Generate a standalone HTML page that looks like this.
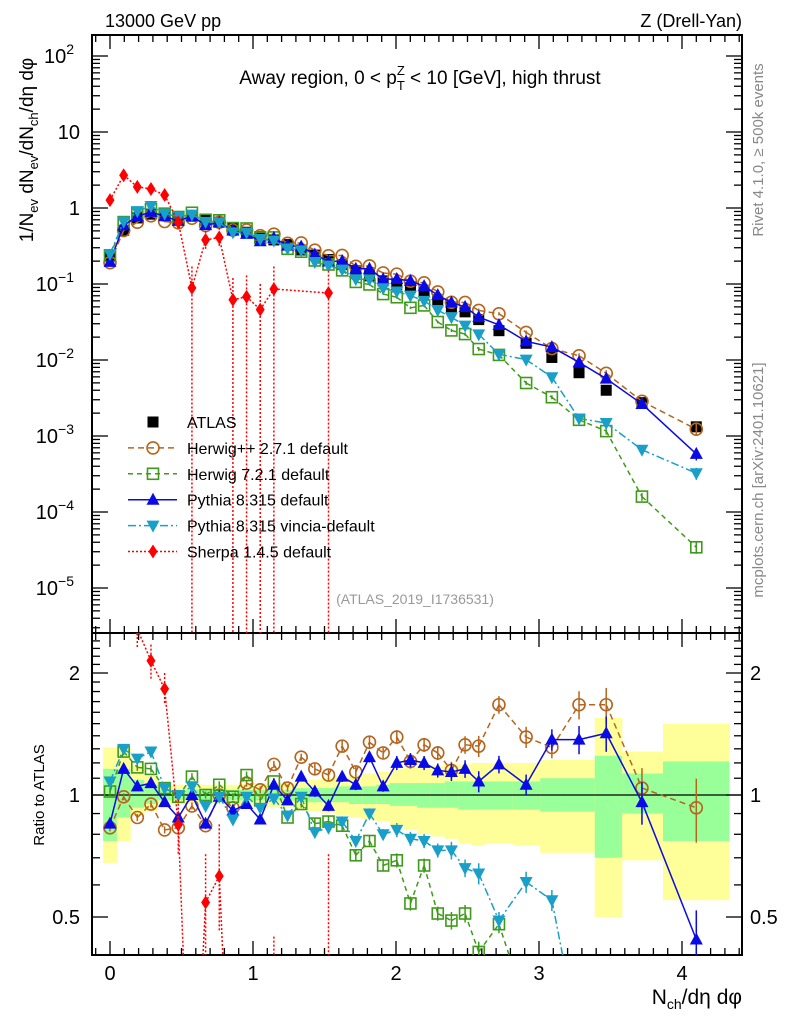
<!DOCTYPE html>
<html><head><meta charset="utf-8">
<style>
html,body{margin:0;padding:0;background:#fff;width:786px;height:1024px;overflow:hidden;}
svg{display:block;font-family:"Liberation Sans",Arial,sans-serif;}
</style></head>
<body>
<svg id="c" width="786" height="1024" viewBox="0 0 786 1024" xmlns="http://www.w3.org/2000/svg">
<defs>
<clipPath id="clipTop"><rect x="92" y="35" width="650" height="598"/></clipPath>
<clipPath id="clipBot"><rect x="92" y="633" width="650" height="322"/></clipPath>
</defs>
<g id="bands" clip-path="url(#clipBot)"></g>
<g id="axes"></g>
<g id="series-top" clip-path="url(#clipTop)"></g>
<g id="series-bot" clip-path="url(#clipBot)"></g>
<text x="105" y="27" font-size="18">13000 GeV pp</text>
<text x="742" y="27" font-size="18" text-anchor="end">Z (Drell-Yan)</text>
<text x="420" y="84" font-size="19" text-anchor="middle">Away region, 0 &lt; p<tspan font-size="13" dy="6">T</tspan><tspan font-size="13" dx="-8" dy="-15">Z</tspan><tspan dy="9"> &lt; 10 [GeV], high thrust</tspan></text>
<text x="415" y="604" font-size="14" fill="#999" text-anchor="middle">(ATLAS_2019_I1736531)</text>
<text transform="translate(763,150) rotate(-90)" font-size="15" fill="#888" text-anchor="middle">Rivet 4.1.0, ≥ 500k events</text>
<text transform="translate(763,480) rotate(-90)" font-size="15" fill="#888" text-anchor="middle">mcplots.cern.ch [arXiv:2401.10621]</text>
<text transform="translate(33,150) rotate(-90)" font-size="19" text-anchor="middle">1/N<tspan font-size="13" dy="5">ev</tspan><tspan dy="-5"> dN</tspan><tspan font-size="13" dy="5">ev</tspan><tspan dy="-5">/dN</tspan><tspan font-size="13" dy="5">ch</tspan><tspan dy="-5">/dη dφ</tspan></text>
<text transform="translate(44,795) rotate(-90)" font-size="15" text-anchor="middle">Ratio to ATLAS</text>
<text x="742" y="1004" font-size="21" text-anchor="end">N<tspan font-size="14" dy="5">ch</tspan><tspan dy="-5">/dη dφ</tspan></text>
<g id="legend"></g>
</svg>
<script>
const xVals=[0,0.0955,0.191,0.2865,0.382,0.4775,0.573,0.6685,0.764,0.8595,0.955,1.0505,1.146,1.2415,1.337,1.4325,1.528,1.6235,1.719,1.8145,1.91,2.0055,2.101,2.1965,2.292,2.3875,2.483,2.5785,2.72,2.91,3.09,3.28,3.47,3.72,4.1];
const binLo=[-0.048,0.048,0.143,0.239,0.334,0.43,0.525,0.621,0.716,0.812,0.907,1.003,1.098,1.194,1.289,1.385,1.48,1.576,1.671,1.767,1.862,1.958,2.053,2.149,2.244,2.34,2.435,2.531,2.626,2.817,3.008,3.199,3.39,3.581,3.867];
const binHi=[0.048,0.143,0.239,0.334,0.43,0.525,0.621,0.716,0.812,0.907,1.003,1.098,1.194,1.289,1.385,1.48,1.576,1.671,1.767,1.862,1.958,2.053,2.149,2.244,2.34,2.435,2.531,2.626,2.817,3.008,3.199,3.39,3.581,3.867,4.33];
const atlas=[0.23,0.51,0.74,0.83,0.81,0.77,0.78,0.70,0.65,0.55,0.48,0.42,0.38,0.33,0.28,0.24,0.21,0.18,0.15,0.128,0.11,0.097,0.09,0.078,0.062,0.05,0.043,0.034,0.0243,0.0166,0.0108,0.0068,0.0040,0.00275,0.00132];
const yelUp=[1.31,1.31,1.18,1.12,1.07,1.06,1.06,1.06,1.06,1.06,1.07,1.07,1.07,1.07,1.08,1.09,1.10,1.11,1.12,1.13,1.14,1.16,1.17,1.18,1.18,1.19,1.19,1.20,1.20,1.20,1.22,1.22,1.55,1.28,1.50];
const yelDn=[0.68,0.77,0.89,0.91,0.94,0.95,0.95,0.95,0.95,0.95,0.94,0.94,0.93,0.93,0.92,0.91,0.90,0.89,0.88,0.87,0.86,0.84,0.82,0.80,0.79,0.78,0.76,0.75,0.76,0.75,0.72,0.72,0.50,0.69,0.55];
const grnUp=[1.16,1.16,1.09,1.06,1.03,1.03,1.03,1.03,1.03,1.03,1.03,1.03,1.03,1.03,1.04,1.04,1.04,1.05,1.05,1.05,1.06,1.07,1.07,1.07,1.07,1.08,1.08,1.08,1.08,1.08,1.10,1.10,1.25,1.13,1.21];
const grnDn=[0.77,0.88,0.93,0.95,0.97,0.97,0.97,0.97,0.97,0.97,0.97,0.97,0.97,0.97,0.96,0.96,0.96,0.96,0.95,0.95,0.95,0.94,0.94,0.93,0.93,0.93,0.92,0.92,0.92,0.92,0.91,0.91,0.70,0.90,0.77];
const relErr=[0.02,0.02,0.02,0.02,0.02,0.02,0.02,0.02,0.02,0.02,0.02,0.02,0.02,0.02,0.02,0.03,0.03,0.03,0.03,0.03,0.03,0.04,0.04,0.04,0.04,0.05,0.05,0.06,0.05,0.06,0.06,0.08,0.10,0.12,0.18];
const rPythia=[0.85,1.16,1.05,1.07,0.96,0.88,1.0,0.85,0.99,0.915,0.95,0.87,1.06,0.97,1.11,1.02,0.94,1.11,1.06,1.24,1.05,1.20,1.22,1.20,1.15,1.14,1.16,1.08,1.19,1.06,1.37,1.37,1.42,0.96,0.44];
const rHerwigPP=[0.83,0.99,0.88,0.95,0.82,0.83,0.94,0.84,1.0,0.93,1.07,1.03,1.19,1.04,1.24,1.16,1.12,1.32,1.14,1.35,1.27,1.39,1.21,1.33,1.27,1.15,1.33,1.32,1.67,1.39,1.31,1.67,1.67,1.04,0.93];
const rHerwig7=[1.02,1.28,1.17,1.16,1.04,0.99,1.11,1.0,1.06,0.99,1.12,0.97,1.08,0.88,0.95,0.85,0.86,0.84,0.71,0.77,0.67,0.69,0.54,0.67,0.51,0.49,0.51,0.41,0.48,0.30,0.30,0.24,0.29,0.058,0.026];
const rVincia=[1.08,1.30,1.23,1.28,1.04,1.0,1.05,0.94,0.99,0.87,0.99,0.93,0.98,0.89,0.99,0.81,0.83,0.86,0.77,0.90,0.80,0.82,0.78,0.77,0.73,0.73,0.66,0.64,0.49,0.61,0.55,0.25,0.37,0.24,0.245];
const sherpa=[1.27,2.7,1.9,1.78,1.48,0.65,0.089,0.38,0.41,0.062,0.068,0.046,0.086,null,null,null,0.076];
const sherpaUp=[1.45,3.0,2.1,1.95,1.62,0.75,0.17,0.5,0.55,0.12,0.13,0.10,0.17,null,null,null,0.15];
const sherpaDn=[1.1,2.4,1.7,1.6,1.35,0.55,0,0.28,0.3,0,0,0,0,null,null,null,0];
const yTopTicks=[[100,"10","2"],[10,"10",""],[1,"1",""],[0.1,"10","−1"],[0.01,"10","−2"],[0.001,"10","−3"],[0.0001,"10","−4"],[0.00001,"10","−5"]];
const ratioTicks=[[2,"2"],[1,"1"],[0.5,"0.5"]];
const xTicks=[0,1,2,3,4];

const NS="http://www.w3.org/2000/svg";
const X=v=>110+143*v;
const YT=v=>208-76*Math.log10(v);
const YR=r=>795-122*Math.log2(r);
const TOP=[35,633],BOT=[633,955];
function mk(tag,attrs,parent){const e=document.createElementNS(NS,tag);for(const k in attrs)e.setAttribute(k,attrs[k]);parent.appendChild(e);return e;}
// clip a polyline (array of [x,y]) to y-range; returns array of segments
function clipLine(pts,rng){
  const [y0,y1]=rng;const segs=[];
  for(let i=0;i<pts.length-1;i++){
    let [xa,ya]=pts[i],[xb,yb]=pts[i+1];
    if((ya<y0&&yb<y0)||(ya>y1&&yb>y1))continue;
    const at=y=>xa+(xb-xa)*(y-ya)/(yb-ya);
    if(ya<y0){xa=at(y0);ya=y0;}else if(ya>y1){xa=at(y1);ya=y1;}
    // recompute with original for b
    const [oxa,oya]=pts[i];const at2=y=>oxa+(xb-oxa)*(y-oya)/(yb-oya);
    if(yb<y0){xb=at2(y0);yb=y0;}else if(yb>y1){xb=at2(y1);yb=y1;}
    segs.push([[xa,ya],[xb,yb]]);
  }
  return segs;
}
function drawLine(pts,rng,attrs,parent){
  const segs=clipLine(pts,rng);
  const d=segs.map(s=>`M${s[0][0].toFixed(2)},${s[0][1].toFixed(2)}L${s[1][0].toFixed(2)},${s[1][1].toFixed(2)}`).join('');
  if(d)mk('path',Object.assign({d:d},attrs),parent);
}
const clampY=(y,r)=>Math.max(r[0],Math.min(r[1],y));
const inR=(y,r)=>y>=r[0]-8&&y<=r[1]+8;
const axes=document.getElementById('axes');
const bands=document.getElementById('bands');
const sTop=document.getElementById('series-top');
const sBot=document.getElementById('series-bot');

for(let i=0;i<xVals.length;i++){
  const w=X(binHi[i])-X(binLo[i]);
  const y1=mk('rect',{x:X(binLo[i]),y:YR(yelUp[i]),width:w+0.3,height:YR(yelDn[i])-YR(yelUp[i]),fill:'#ffff99'},bands);
  
  
  const g1=mk('rect',{x:X(binLo[i]),y:YR(grnUp[i]),width:w+0.3,height:YR(grnDn[i])-YR(grnUp[i]),fill:'#99ff99'},bands);
  
  
}
const f1=mk('rect',{x:92,y:35,width:650,height:598,fill:'none',stroke:'#000','stroke-width':2},axes);


const f2=mk('rect',{x:92,y:633,width:650,height:322,fill:'none',stroke:'#000','stroke-width':2},axes);


const one=mk('line',{x1:92,x2:742,y1:YR(1),y2:YR(1),stroke:'#000','stroke-width':1.3},axes);


for(let k=-1;k<=46;k++){
  const v=k/10;const x=X(v);if(x<93||x>741)continue;
  const maj=(k%10===0);const L=maj?14:7;
  [[633,-1],[35,1],[955,-1],[633,1]].forEach(([y,d])=>{mk('line',{x1:x,x2:x,y1:y,y2:y+d*L,stroke:'#000','stroke-width':1.3},axes);});
}
xTicks.forEach(v=>{const t=mk('text',{x:X(v),y:980,'font-size':20,'text-anchor':'middle'},axes);t.textContent=String(v);

});
for(let e=-6;e<=2;e++){for(let m=1;m<=9;m++){const v=m*Math.pow(10,e);const y=YT(v);if(y<36||y>632)continue;const L=m===1?16:8;
  mk('line',{x1:92,x2:92+L,y1:y,y2:y,stroke:'#000','stroke-width':1.3},axes);mk('line',{x1:742,x2:742-L,y1:y,y2:y,stroke:'#000','stroke-width':1.3},axes);}}
yTopTicks.forEach(([v,b,ex])=>{const t=mk('text',{x:ex?74:80,y:YT(v)+7,'font-size':20,'text-anchor':'end'},axes);t.textContent=b;
 if(ex){const s=mk('tspan',{'font-size':14,dy:-9},t);s.textContent=ex;}
 
 });
for(let k=3;k<=25;k++){const r=k/10;const y=YR(r);if(y<634||y>954)continue;const maj=(k===5||k===10||k===20);const L=maj?16:8;
  mk('line',{x1:92,x2:92+L,y1:y,y2:y,stroke:'#000','stroke-width':1.3},axes);mk('line',{x1:742,x2:742-L,y1:y,y2:y,stroke:'#000','stroke-width':1.3},axes);}
ratioTicks.forEach(([r,l])=>{const t=mk('text',{x:80,y:YR(r)+7,'font-size':20,'text-anchor':'end'},axes);t.textContent=l;
 
 
 const t2=mk('text',{x:750,y:YR(r)+7,'font-size':20},axes);t2.textContent=l;
 
 });

function marker(type,x,y,col,parent){
  let e;
  if(type==='square')e=mk('rect',{x:x-5.5,y:y-5.5,width:11,height:11,fill:'#000'},parent);
  else if(type==='osquare')e=mk('rect',{x:x-5.5,y:y-5.5,width:11,height:11,fill:'none',stroke:col,'stroke-width':1.6},parent);
  else if(type==='circle')e=mk('circle',{cx:x,cy:y,r:6,fill:'none',stroke:col,'stroke-width':1.6},parent);
  else if(type==='tup')e=mk('polygon',{points:`${x},${y-7} ${x-6.5},${y+5} ${x+6.5},${y+5}`,fill:col},parent);
  else if(type==='tdn')e=mk('polygon',{points:`${x},${y+7} ${x-6.5},${y-5} ${x+6.5},${y-5}`,fill:col},parent);
  else e=mk('polygon',{points:`${x},${y-7} ${x-4.5},${y} ${x},${y+7} ${x+4.5},${y}`,fill:col},parent);
  return e;
}
atlas.forEach((v,i)=>{const m=marker('square',X(xVals[i]),YT(v),'#000',sTop);
 
 });
const series=[
 {name:'herwigpp',r:rHerwigPP,col:'#b5651d',dash:'6,4',mk:'circle'},
 {name:'herwig7',r:rHerwig7,col:'#3f9a1a',dash:'5,4',mk:'osquare'},
 {name:'pythia',r:rPythia,col:'#0a0ae6',dash:'',mk:'tup'},
 {name:'vincia',r:rVincia,col:'#1a9fc8',dash:'8,3,2,3',mk:'tdn'}
];
series.forEach(s=>{
  const gT=mk('g',{},sTop);
  
  
  const gB=mk('g',{},sBot);
  
  
  const vals=s.r.map((r,i)=>r*atlas[i]);
  const la={fill:'none',stroke:s.col,'stroke-width':1.5};if(s.dash)la['stroke-dasharray']=s.dash;
  drawLine(vals.map((v,i)=>[X(xVals[i]),YT(v)]),TOP,la,gT);
  drawLine(s.r.map((r,i)=>[X(xVals[i]),YR(r)]),BOT,la,gB);
  vals.forEach((v,i)=>{
    const x=X(xVals[i]),e=relErr[i];
    if(inR(YT(v),TOP)){
      mk('line',{x1:x,x2:x,y1:clampY(YT(v*(1+e)),TOP),y2:clampY(YT(v*(1-e)),TOP),stroke:s.col,'stroke-width':1.5},gT);
      const m1=marker(s.mk,x,YT(v),s.col,gT);
      
      
    }
    const yr=YR(s.r[i]);
    if(inR(yr,BOT)){
      mk('line',{x1:x,x2:x,y1:clampY(YR(s.r[i]*(1+e)),BOT),y2:clampY(YR(s.r[i]*(1-e)),BOT),stroke:s.col,'stroke-width':1.5},gB);
      const m2=marker(s.mk,x,yr,s.col,gB);
      
      
    }
  });
});
(function(){
  const col='#ff0000';
  const gT=mk('g',{},sTop);
  
  
  const gB=mk('g',{},sBot);
  
  
  const ptsT=[],ptsB=[];
  sherpa.forEach((v,i)=>{if(v===null)return;ptsT.push([X(xVals[i]),YT(v)]);ptsB.push([X(xVals[i]),YR(v/atlas[i])]);});
  const la={fill:'none',stroke:col,'stroke-width':1.5,'stroke-dasharray':'2,2'};
  drawLine(ptsT,TOP,la,gT);
  drawLine(ptsB,BOT,la,gB);
  sherpa.forEach((v,i)=>{if(v===null)return;const x=X(xVals[i]);
    const dn=sherpaDn[i]>0?YT(sherpaDn[i]):633;
    mk('line',{x1:x,x2:x,y1:clampY(YT(sherpaUp[i]),TOP),y2:clampY(dn,TOP),stroke:col,'stroke-width':1.5,'stroke-dasharray':'2,2'},gT);
    const rdn=sherpaDn[i]>0?YR(sherpaDn[i]/atlas[i]):955;
    const ru=clampY(YR(sherpaUp[i]/atlas[i]),BOT),rd=clampY(rdn,BOT);
    if(rd>ru)mk('line',{x1:x,x2:x,y1:ru,y2:rd,stroke:col,'stroke-width':1.5,'stroke-dasharray':'2,2'},gB);
    const m1=marker('diamond',x,YT(v),col,gT);
    
    
    const yr=YR(v/atlas[i]);
    if(inR(yr,BOT)){
      const m2=marker('diamond',x,yr,col,gB);
      
      
    }
  });
})();
const leg=document.getElementById('legend');
const entries=[
 ['ATLAS','square','#000',null],
 ['Herwig++ 2.7.1 default','circle','#b5651d','6,4'],
 ['Herwig 7.2.1 default','osquare','#3f9a1a','5,4'],
 ['Pythia 8.315 default','tup','#0a0ae6',''],
 ['Pythia 8.315 vincia-default','tdn','#1a9fc8','8,3,2,3'],
 ['Sherpa 1.4.5 default','diamond','#ff0000','2,2']
];
entries.forEach((e,k)=>{
  const y=422+25.9*k;
  const g=mk('g',{},leg);
  
  
  if(e[3]!==null){const a={x1:128,x2:177,y1:y,y2:y,stroke:e[2],'stroke-width':1.5};if(e[3])a['stroke-dasharray']=e[3];mk('line',a,g);}
  marker(e[1],153,y,e[2],g);
  const t=mk('text',{x:187,y:y+6,'font-size':16},g);t.textContent=e[0];
});
</script>
</body></html>
